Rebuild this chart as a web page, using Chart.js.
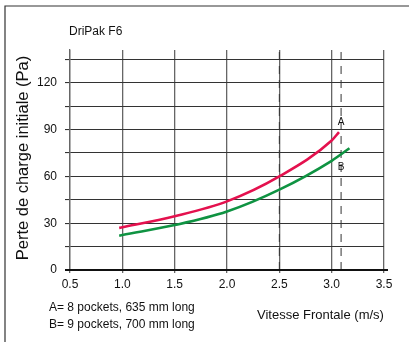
<!DOCTYPE html>
<html>
<head>
<meta charset="utf-8">
<script src="https://cdn.jsdelivr.net/npm/chart.js@4/dist/chart.umd.min.js"></script>
<style>
  html, body { margin: 0; padding: 0; background: #fff; }
  #wrap { width: 409px; height: 342px; position: relative; }
</style>
</head>
<body>
<div id="wrap"><canvas id="chart"></canvas></div>
<script>
// donnees
const vitesseA = [0.97, 1.0, 1.5, 2.0, 2.5, 3.0, 3.07];
const perteA = [27, 27.4, 34.5, 44, 60, 83, 88.4];
const vitesseB = [0.97, 1.0, 1.5, 2.0, 2.5, 3.0, 3.17];
const perteB = [22, 22.4, 28.8, 37.5, 51.5, 70, 78];
const lignesRef = [2.5, 3.09]; // lignes pointillees
const xTicks = [0.5, 1.0, 1.5, 2.0, 2.5, 3.0, 3.5];
const yTicks = [0, 15, 30, 45, 60, 75, 90, 105, 120, 135];
const yMax = 141;
const titre = "DriPak F6";
const legendeA = "A= 8 pockets, 635 mm long";
const legendeB = "B= 9 pockets, 700 mm long";

const fontFam = "'Liberation Sans', Arial, sans-serif";

function pts(xs, ys) {
    return xs.map((x, i) => ({x: x, y: ys[i]}));
}

let datasets = [
    {
        label: "A",
        data: pts(vitesseA, perteA),
        borderColor: '#e4114e',
        borderWidth: 2.6,
        pointRadius: 0,
        cubicInterpolationMode: 'monotone',
    },
    {
        label: "B",
        data: pts(vitesseB, perteB),
        borderColor: '#0f9342',
        borderWidth: 2.6,
        pointRadius: 0,
        cubicInterpolationMode: 'monotone',
    },
];
lignesRef.forEach((v) => {
    datasets.push({
        label: "ref",
        data: [{x: v, y: 0}, {x: v, y: yMax}],
        borderColor: '#333',
        borderWidth: 1,
        borderDash: [8, 6],
        pointRadius: 0,
    });
});

// textes, cadre et prolongement de l'axe x
const decor = {
    id: 'decor',
    afterDraw(chart) {
        const ctx = chart.ctx;
        const xs = chart.scales.x, ys = chart.scales.y;
        const area = chart.chartArea;
        ctx.save();
        // cadre
        ctx.strokeStyle = '#333';
        ctx.lineWidth = 1.2;
        ctx.beginPath();
        ctx.moveTo(5, 342);
        ctx.lineTo(5, 6);
        ctx.lineTo(409, 6);
        ctx.stroke();
        // axe x
        ctx.strokeStyle = '#111';
        ctx.lineWidth = 2;
        ctx.beginPath();
        ctx.moveTo(area.left - 5, ys.getPixelForValue(0));
        ctx.lineTo(area.right + 4, ys.getPixelForValue(0));
        ctx.stroke();

        ctx.fillStyle = '#111';
        ctx.textBaseline = 'middle';
        ctx.textAlign = 'left';
        ctx.font = "12px " + fontFam;
        ctx.fillText(titre, 69, 32);
        ctx.fillText(legendeA, 49, 308);
        ctx.fillText(legendeB, 49, 325);
        ctx.font = "13px " + fontFam;
        ctx.fillText("Vitesse Frontale (m/s)", 257, 315);

        // etiquettes A et B
        ctx.font = "10px " + fontFam;
        ctx.textAlign = 'center';
        ctx.fillText("A", xs.getPixelForValue(lignesRef[1]), 122);
        ctx.fillText("B", xs.getPixelForValue(lignesRef[1]), 167);

        // titre axe y
        ctx.font = "16.5px " + fontFam;
        ctx.translate(23, 158);
        ctx.rotate(-Math.PI / 2);
        ctx.fillText("Perte de charge initiale (Pa)", 0, 0);
        ctx.restore();
    }
};

new Chart(document.getElementById("chart"), {
    type: "line",
    data: { datasets: datasets },
    options: {
        responsive: true,
        maintainAspectRatio: false,
        animation: false,
        layout: { padding: { left: 0, right: 25, top: 50, bottom: 0 } },
        plugins: {
            legend: { display: false },
            tooltip: { enabled: false },
        },
        scales: {
            x: {
                type: 'linear',
                min: 0.5,
                max: 3.5,
                afterFit: (s) => { s.height = 72; },
                afterBuildTicks: (s) => { s.ticks = xTicks.map((v) => ({value: v})); },
                ticks: {
                    color: '#111',
                    padding: 4,
                    font: { family: fontFam, size: 12 },
                    callback: (v) => Number(v).toFixed(1),
                },
                grid: {
                    color: '#666',
                    lineWidth: 1.3,
                    tickLength: 3,
                },
                border: { display: false },
            },
            y: {
                min: 0,
                max: yMax,
                afterFit: (s) => { s.width = 70; },
                afterBuildTicks: (s) => { s.ticks = yTicks.map((v) => ({value: v})); },
                ticks: {
                    color: '#111',
                    padding: 8,
                    font: { family: fontFam, size: 12 },
                    callback: (v) => (v % 30 === 0 ? v : ''),
                },
                grid: {
                    color: '#333',
                    lineWidth: 1.1,
                    tickLength: 5,
                },
                border: { color: '#666', width: 1.3 },
            },
        },
    },
    plugins: [decor],
});
</script>
</body>
</html>
